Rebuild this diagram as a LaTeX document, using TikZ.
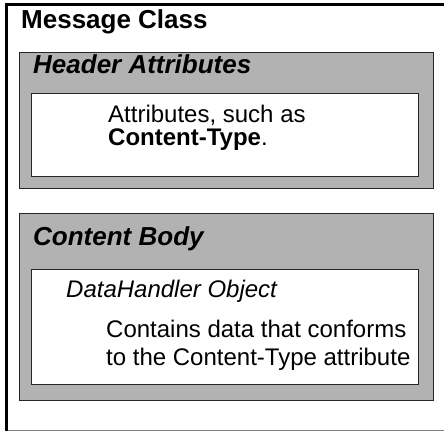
\documentclass[tikz,border=0pt]{standalone}
\usepackage{fontspec}
\setmainfont{Liberation Sans}
\usetikzlibrary{positioning}

\begin{document}
\begin{tikzpicture}[x=1pt, y=-1pt,
    graybox/.style={draw=black!85, line width=1.3pt, fill=black!30, anchor=north west, inner sep=0pt, minimum width=414pt},
    whitebox/.style={draw=black!85, line width=1.3pt, fill=white, anchor=north west, inner sep=0pt, minimum width=387pt},
    heading/.style={anchor=base west, inner sep=0pt, font=\fontsize{26}{30}\selectfont\bfseries\itshape},
    body/.style={anchor=base west, inner sep=0pt, align=left, font=\fontsize{24}{28}\selectfont}]
        \useasboundingbox (0,0) rectangle (444,431);
        % outer frame, open on the right
        \draw[black!50, line width=1.2pt] (6.5,430.5) -- (444,430.5);
        \draw[line width=2.2pt] (444,4.5) -| (6.5,431);
        \node[heading, font=\fontsize{26}{30}\selectfont\bfseries] (msg) at (21,28) {Message Class};

        % header part
        \node[graybox, minimum height=136pt] (hdr) at (19,52) {};
        \node[whitebox, minimum height=83pt] (hdrin) at (31,93) {};
        \node[heading] (hdrtitle) at (33,73) {Header Attributes};
        % base of a two-line node is its last line
        \node[body, font=\fontsize{24}{23}\selectfont] (hdrtext) at (108,145) {Attributes, such as\\\textbf{Content-Type}.};

        % body part
        \node[graybox, minimum height=187pt] (cnt) at (19,213) {};
        \node[whitebox, minimum height=115pt] (cntin) at (31,269) {};
        \node[heading] (cnttitle) at (33,245) {Content Body};
        \node[body, font=\fontsize{24}{28}\selectfont\itshape] (dh) at (66,297) {DataHandler Object};
        \node[body] (dhtext) at (106,365) {Contains data that conforms\\to the Content-Type attribute};
    \end{tikzpicture}
\end{document}
